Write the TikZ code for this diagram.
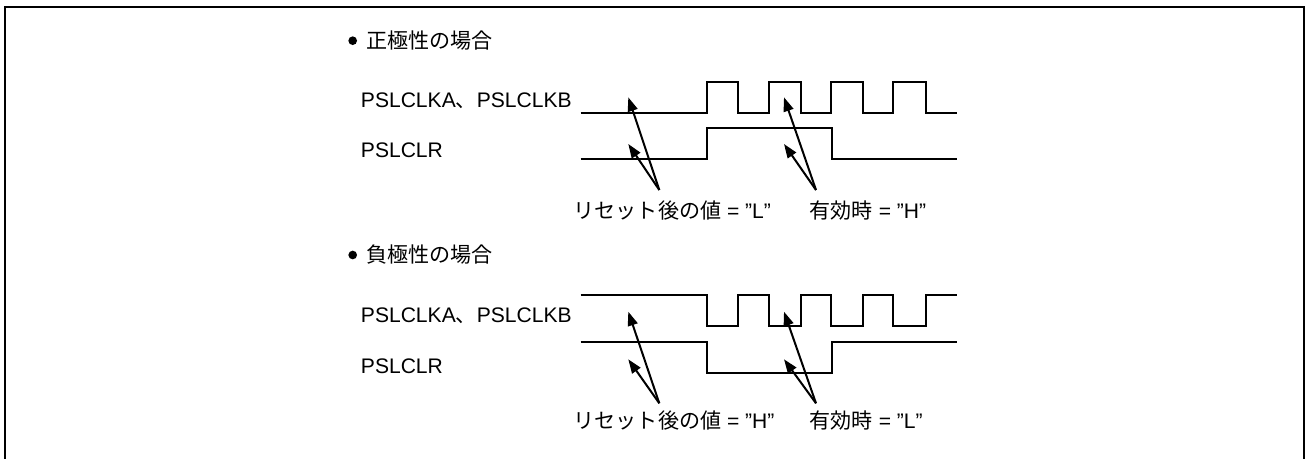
\documentclass[tikz,border=0pt]{standalone}
\usepackage{fontspec}
\setmainfont{Liberation Sans}
\newfontfamily\jp{Noto Sans CJK JP}
\usetikzlibrary{arrows.meta}
\newcommand{\dq}{\char34 }
\begin{document}
\begin{tikzpicture}[x=0.75pt,y=-0.75pt,
  lbl/.style={inner sep=0pt,anchor=base west,font=\fontsize{15.8pt}{18pt}\selectfont},
  wave/.style={line width=1.5pt,line join=miter},
  ptr/.style={line width=1.5pt,-{Triangle[length=10.5pt,width=7.5pt]}},
  frame/.style={line width=1.5pt},
  bul/.style={circle,fill=black,inner sep=0pt,minimum size=6.5pt}]
\useasboundingbox (0,0) rectangle (1307,459);
\draw[frame] (5,459) -- (5,7) -- (1304,7) -- (1304,459);

% ---- positive polarity ----
\node[bul] (b1) at (352.7,40.7) {};
\node[lbl] (t1) at (366,48.3) {\jp 正極性の場合};
\node[lbl] (clk1) at (360.7,107.3) {PSLCLKA{\jp 、}PSLCLKB};
\node[lbl] (clr1) at (360.7,157.3) {PSLCLR};
\draw[wave] (580.7,112.7) -- (707,112.7) -- (707,82) -- (738.3,82) -- (738.3,112.7)
  -- (768.8,112.7) -- (768.8,82) -- (800.7,82) -- (800.7,112.7)
  -- (830.7,112.7) -- (830.7,82) -- (863.3,82) -- (863.3,112.7)
  -- (893.3,112.7) -- (893.3,82) -- (925.7,82) -- (925.7,112.7) -- (956.7,112.7);
\draw[wave] (580.7,159.3) -- (707,159.3) -- (707,128.3) -- (831.7,128.3) -- (831.7,159.3) -- (956.7,159.3);
\coordinate (r1) at (659.3,190);
\coordinate (e1) at (816,190);
\coordinate (r1a) at (628.3,97.3);
\coordinate (r1b) at (628.3,144);
\coordinate (e1a) at (784,97.3);
\coordinate (e1b) at (784,144);
\draw[ptr] (r1) -- (r1a);
\draw[ptr] (r1) -- (r1b);
\draw[ptr] (e1) -- (e1a);
\draw[ptr] (e1) -- (e1b);
\node[lbl] (n1) at (573.5,218.3) {{\jp リセット後の値} = \dq L\dq};
\node[lbl] (m1) at (809.5,218.3) {{\jp 有効時} = \dq H\dq};

% ---- negative polarity ----
\node[bul] (b2) at (352.7,255) {};
\node[lbl] (t2) at (366,262.6) {\jp 負極性の場合};
\node[lbl] (clk2) at (360.7,322.3) {PSLCLKA{\jp 、}PSLCLKB};
\node[lbl] (clr2) at (360.7,373.3) {PSLCLR};
\draw[wave] (580.7,295) -- (707,295) -- (707,326) -- (738.3,326) -- (738.3,295)
  -- (768.8,295) -- (768.8,326) -- (800.7,326) -- (800.7,295)
  -- (830.7,295) -- (830.7,326) -- (863.3,326) -- (863.3,295)
  -- (893.3,295) -- (893.3,326) -- (925.7,326) -- (925.7,295) -- (956.7,295);
\draw[wave] (580.7,341.7) -- (707,341.7) -- (707,372.7) -- (831.7,372.7) -- (831.7,341.7) -- (956.7,341.7);
\coordinate (r2) at (659.3,403.3);
\coordinate (e2) at (816,403.3);
\coordinate (r2a) at (628.3,311.7);
\coordinate (r2b) at (628.3,359.3);
\coordinate (e2a) at (784,311.7);
\coordinate (e2b) at (784,359.3);
\draw[ptr] (r2) -- (r2a);
\draw[ptr] (r2) -- (r2b);
\draw[ptr] (e2) -- (e2a);
\draw[ptr] (e2) -- (e2b);
\node[lbl] (n2) at (573.5,428.5) {{\jp リセット後の値} = \dq H\dq};
\node[lbl] (m2) at (809.5,428.5) {{\jp 有効時} = \dq L\dq};
\end{tikzpicture}
\end{document}
